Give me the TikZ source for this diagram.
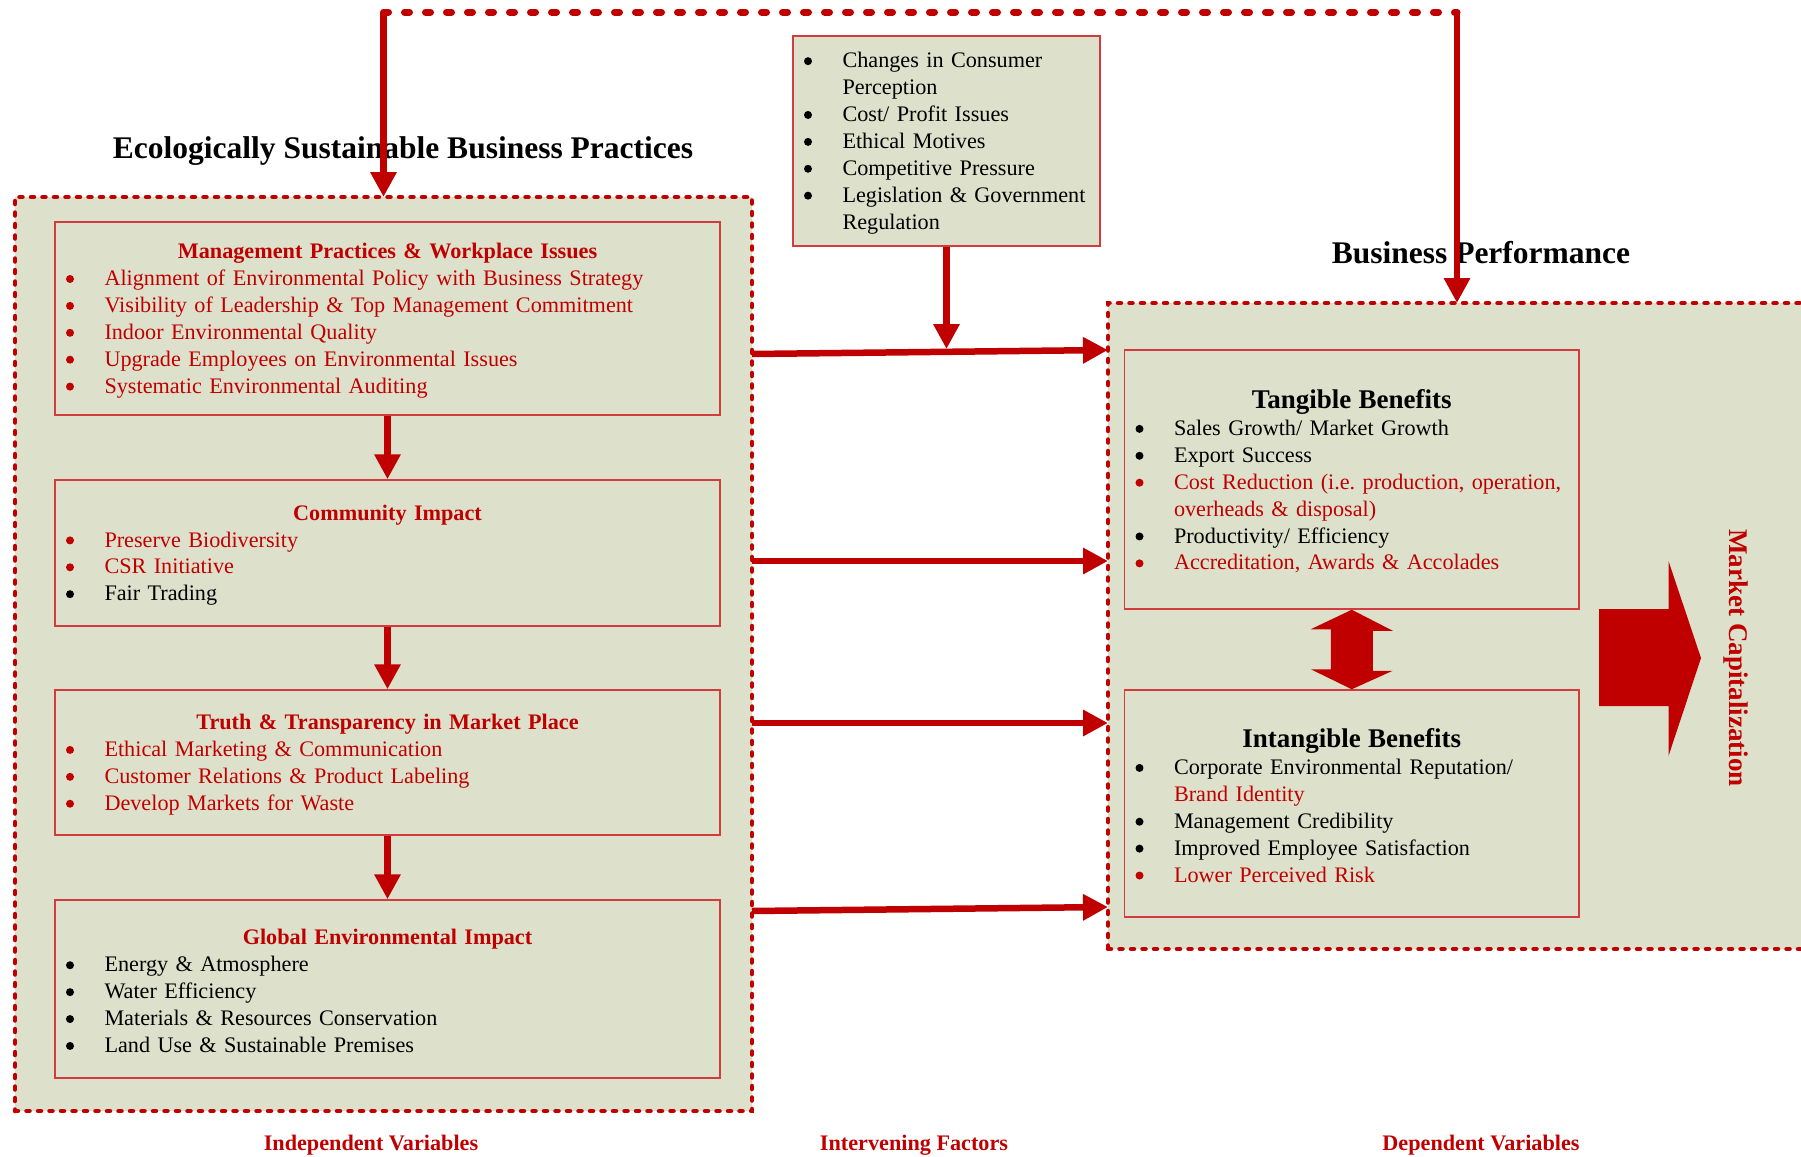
\documentclass[tikz,border=0pt]{standalone}
\usepackage{fontspec}
\setmainfont{Liberation Serif}
\usetikzlibrary{arrows.meta}
\usetikzlibrary{positioning}
\usetikzlibrary{calc}
\definecolor{darkred}{HTML}{C00000}
\definecolor{boxred}{HTML}{D23C3C}
\definecolor{olive}{HTML}{DDE1CB}
\frenchspacing
\newcommand{\topstrut}{\rule{0pt}{\dimexpr0.68em+2.3pt\relax}}
\newcommand{\hd}[2][darkred]{{\centering\noindent\color{#1}\bfseries #2\topstrut\par}}
\newcommand{\bl}[2][black]{{\noindent\color{#1}\hangindent=24.75pt\hangafter=1%
    \makebox[24.75pt][l]{\hspace*{5.5pt}\tikz[baseline=-3.3pt]\fill (0,0) circle (2pt);}#2\par}}
\tikzset{frame/.style = {draw=darkred, fill=olive, line width=2.25pt, line cap=round,
                         dash pattern=on 1.5pt off 4.25pt, outer sep=0pt},
         panel/.style = {draw=boxred, fill=olive, line width=0.75pt, inner xsep=0pt,
                         inner ysep=0pt, text width=#1,
                         font=\fontsize{11.1}{13.45}\selectfont},
         title/.style = {font=\fontsize{15.75}{18}\selectfont\bfseries},
         caption/.style = {text=darkred, font=\fontsize{11.1}{13.45}\selectfont\bfseries},
         link/.style = {darkred, line width=3.25pt,
                        -{Triangle[length=12.5pt, width=12.5pt]}},
         loopline/.style = {darkred, line width=3.5pt, line cap=round,
                            dash pattern=on 2.5pt off 8pt}}

\begin{document}
\begin{tikzpicture}[x=0.5pt, y=-0.5pt]
    \useasboundingbox (0,0) rectangle (1801,1157);
    \clip (0,0) rectangle (1801,1157);

    \node [frame, minimum width=368.5pt, minimum height=457pt] (esbp) at (383.5,654) {};
    \node [frame, minimum width=353.5pt, minimum height=323pt] (bp) at (1461.5,626) {};

    \node [title] (esbptitle) at (403,151.5) {Ecologically Sustainable Business Practices};
    \node [title] (bptitle) at (1481,253) {Business Performance};

    \node [panel=332.5pt, minimum height=96.5pt] (mgmt) at (387.5,318.5) {
        \hd{Management Practices \& Workplace Issues}
        \bl[darkred]{Alignment of Environmental Policy with Business Strategy}
        \bl[darkred]{Visibility of Leadership \& Top Management Commitment}
        \bl[darkred]{Indoor Environmental Quality}
        \bl[darkred]{Upgrade Employees on Environmental Issues}
        \bl[darkred]{Systematic Environmental Auditing}
    };
    \node [panel=332.5pt, minimum height=73pt] (comm) at (387.5,553) {
        \hd{Community Impact}
        \bl[darkred]{Preserve Biodiversity}
        \bl[darkred]{CSR Initiative}
        \bl{Fair Trading}
    };
    \node [panel=332.5pt, minimum height=72.5pt] (truth) at (387.5,762.5) {
        \hd{Truth \& Transparency in Market Place}
        \bl[darkred]{Ethical Marketing \& Communication}
        \bl[darkred]{Customer Relations \& Product Labeling}
        \bl[darkred]{Develop Markets for Waste}
    };
    \node [panel=332.5pt, minimum height=89pt] (global) at (387.5,989) {
        \hd{Global Environmental Impact}
        \bl{Energy \& Atmosphere}
        \bl{Water Efficiency}
        \bl{Materials \& Resources Conservation}
        \bl{Land Use \& Sustainable Premises}
    };

    \node [panel=153.5pt, minimum height=105pt] (ifac) at (946.5,141) {
        \bl{\topstrut Changes in Consumer\newline Perception}
        \bl{Cost/ Profit Issues}
        \bl{Ethical Motives}
        \bl{Competitive Pressure}
        \bl{Legislation \& Government\newline Regulation}
    };

    \node [panel=227.25pt, minimum height=129.5pt] (tang) at (1351.75,479.5) {
        \hd[black]{\fontsize{13.5}{15}\selectfont Tangible Benefits}
        \bl{Sales Growth/ Market Growth}
        \bl{Export Success}
        \bl[darkred]{Cost Reduction (i.e. production, operation,\newline overheads \& disposal)}
        \bl{Productivity/ Efficiency}
        \bl[darkred]{Accreditation, Awards \& Accolades}
    };
    \node [panel=227.25pt, minimum height=113.5pt] (intang) at (1351.75,803.5) {
        \hd[black]{\fontsize{13.5}{15}\selectfont Intangible Benefits}
        \bl{Corporate Environmental Reputation/\newline \textcolor{darkred}{Brand Identity}}
        \bl{Management Credibility}
        \bl{Improved Employee Satisfaction}
        \bl[darkred]{Lower Perceived Risk}
    };

    \node [caption, rotate=-90, font=\fontsize{13.5}{15}\selectfont\bfseries] (mcap) at (1736,658) {Market Capitalization};
    \node [caption] (indep) at (371,1145.5) {Independent Variables};
    \node [caption] (interv) at (914,1145.5) {Intervening Factors};
    \node [caption] (dep) at (1481,1145.5) {Dependent Variables};

    \coordinate (fbL) at (esbp.north |- 0,12);
    \coordinate (fbR) at (1457,12);
    \draw [loopline] (fbL) -- (fbR);
    \draw [link] (fbL) -- (esbp.north);
    \draw [link] (fbR) -- (fbR |- bp.north);

    \draw [link] (mgmt) -- (comm);
    \draw [link] (comm) -- (truth);
    \draw [link] (truth) -- (global);
    \draw [link] (ifac) -- (ifac.south |- 0,349);

    \draw [link] (esbp.east |- 0,354) -- (bp.west |- 0,350);
    \draw [link] (esbp.east |- 0,561) -- (bp.west |- 0,561);
    \draw [link] (esbp.east |- 0,723) -- (bp.west |- 0,723);
    \draw [link] (esbp.east |- 0,911) -- (bp.west |- 0,907);

    \fill [darkred] (tang.south) -- ++(41,21) -- ++(-20,0) -- ++(0,40) -- ++(20,0)
        -- (intang.north) -- ++(-41,-20) -- ++(20,0) -- ++(0,-40) -- ++(-20,0) -- cycle;
    \fill [darkred] (1599,609) -- (1668.5,609) -- (1668.5,561) -- (1701,658)
        -- (1668.5,756) -- (1668.5,706) -- (1599,706) -- cycle;
\end{tikzpicture}
\end{document}
